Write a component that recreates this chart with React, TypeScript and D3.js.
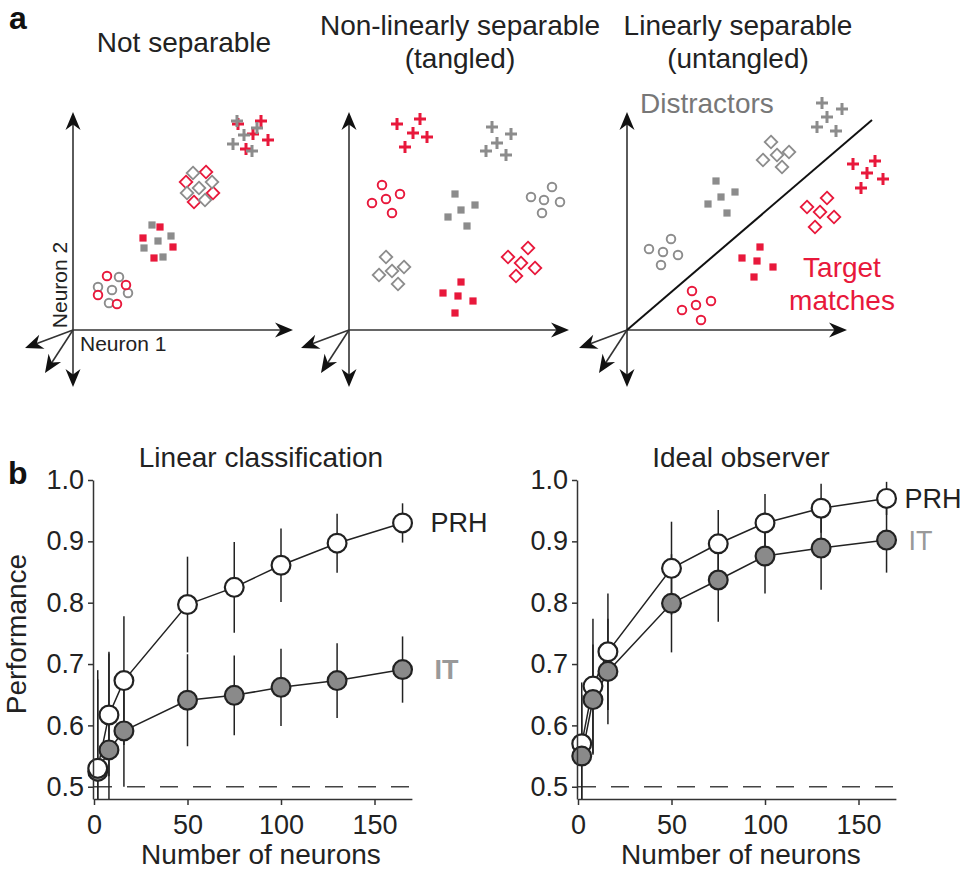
import React from 'react';
import * as d3 from 'd3';

const FONT = '"Liberation Sans", Arial, Helvetica, sans-serif';
const RED = '#e8183b';
const GRAY = '#8c8c8c';
const INK = '#222';

type Pt = [number, number];
type Shape = 'circle' | 'square' | 'diamond' | 'plus';
type Cluster = { shape: Shape; group: 'target' | 'distractor'; pts: Pt[] };

// ---- panel a : points in (neuron 1, neuron 2) units, origin at 0,0 ----
const notSepCircleT: Pt[] = [[34, 54], [53, 45], [25, 35], [44, 26]];
const notSepCircleD: Pt[] = [[46, 53], [25, 43], [39, 40], [55, 37], [36, 27]];
const notSepSquareT: Pt[] = [[87, 103], [70, 92], [100, 83], [81, 72]];
const notSepSquareD: Pt[] = [[79, 105], [98, 94], [85, 89], [71, 82], [90, 73]];
const notSepDiamondD: Pt[] = [[120, 157], [139, 148], [126, 142], [114, 137], [132, 130]];
const notSepDiamondT: Pt[] = [[133, 158], [113, 148], [140, 137], [121, 128]];
const notSepPlusT: Pt[] = [[165, 206], [188, 209], [180, 196], [195, 190], [173, 181]];
const notSepPlusD: Pt[] = [[164, 209], [184, 202], [171, 195], [160, 186], [179, 179]];

const tangPlusT: Pt[] = [[48, 206], [71, 211], [64, 197], [78, 193], [56, 183]];
const tangPlusD: Pt[] = [[143, 203], [162, 196], [148, 187], [137, 179], [157, 175]];
const tangCircleT: Pt[] = [[33, 145], [51, 136], [37, 131], [23, 127], [43, 117]];
const tangSquareD: Pt[] = [[106, 136], [126, 125], [112, 120], [99, 113], [118, 104]];
const tangCircleD: Pt[] = [[203, 143], [182, 133], [195, 130], [211, 128], [193, 117]];
const tangDiamondD: Pt[] = [[37, 73], [55, 63], [43, 59], [30, 55], [49, 46]];
const tangDiamondT: Pt[] = [[179, 82], [159, 73], [172, 67], [186, 62], [167, 54]];
const tangSquareT: Pt[] = [[112, 48], [94, 37], [109, 34], [124, 29], [106, 17]];

const untPlusD: Pt[] = [[195, 227], [215, 221], [200, 213], [190, 203], [209, 199]];
const untDiamondD: Pt[] = [[144, 188], [162, 178], [150, 175], [136, 170], [155, 163]];
const untSquareD: Pt[] = [[89, 149], [108, 138], [94, 133], [81, 126], [100, 117]];
const untCircleD: Pt[] = [[44, 91], [22, 81], [36, 78], [51, 75], [34, 65]];
const untPlusT: Pt[] = [[226, 166], [248, 169], [240, 157], [256, 151], [234, 142]];
const untDiamondT: Pt[] = [[200, 132], [180, 123], [193, 118], [207, 113], [188, 103]];
const untSquareT: Pt[] = [[133, 83], [115, 72], [130, 69], [146, 63], [127, 53]];
const untCircleT: Pt[] = [[65, 39], [84, 29], [69, 25], [55, 20], [74, 10]];
const untBoundary: Pt[] = [[0, 0], [245, 210]];

const notSeparable: Cluster[] = [
  { shape: 'circle', group: 'distractor', pts: notSepCircleD },
  { shape: 'circle', group: 'target', pts: notSepCircleT },
  { shape: 'square', group: 'distractor', pts: notSepSquareD },
  { shape: 'square', group: 'target', pts: notSepSquareT },
  { shape: 'diamond', group: 'target', pts: notSepDiamondT },
  { shape: 'diamond', group: 'distractor', pts: notSepDiamondD },
  { shape: 'plus', group: 'target', pts: notSepPlusT },
  { shape: 'plus', group: 'distractor', pts: notSepPlusD },
];
const tangled: Cluster[] = [
  { shape: 'plus', group: 'target', pts: tangPlusT },
  { shape: 'plus', group: 'distractor', pts: tangPlusD },
  { shape: 'circle', group: 'target', pts: tangCircleT },
  { shape: 'square', group: 'distractor', pts: tangSquareD },
  { shape: 'circle', group: 'distractor', pts: tangCircleD },
  { shape: 'diamond', group: 'distractor', pts: tangDiamondD },
  { shape: 'diamond', group: 'target', pts: tangDiamondT },
  { shape: 'square', group: 'target', pts: tangSquareT },
];
const untangled: Cluster[] = [
  { shape: 'plus', group: 'distractor', pts: untPlusD },
  { shape: 'diamond', group: 'distractor', pts: untDiamondD },
  { shape: 'square', group: 'distractor', pts: untSquareD },
  { shape: 'circle', group: 'distractor', pts: untCircleD },
  { shape: 'plus', group: 'target', pts: untPlusT },
  { shape: 'diamond', group: 'target', pts: untDiamondT },
  { shape: 'square', group: 'target', pts: untSquareT },
  { shape: 'circle', group: 'target', pts: untCircleT },
];

// ---- panel b ----
const neuronCounts = [2, 8, 16, 50, 75, 100, 130, 165];
const linPRH = [0.530, 0.617, 0.673, 0.797, 0.825, 0.861, 0.897, 0.930];
const linPRHErr = [0.16, 0.10, 0.105, 0.078, 0.074, 0.06, 0.048, 0.032];
const linIT = [0.525, 0.560, 0.591, 0.641, 0.649, 0.662, 0.673, 0.691];
const linITErr = [0.15, 0.16, 0.091, 0.075, 0.065, 0.063, 0.061, 0.054];
const idPRH = [0.570, 0.664, 0.720, 0.856, 0.896, 0.930, 0.954, 0.970];
const idPRHErr = [0.10, 0.11, 0.095, 0.076, 0.055, 0.047, 0.04, 0.027];
const idIT = [0.550, 0.642, 0.688, 0.799, 0.837, 0.876, 0.889, 0.902];
const idITErr = [0.10, 0.09, 0.086, 0.08, 0.068, 0.061, 0.068, 0.053];
const yTicks = [0.5, 0.6, 0.7, 0.8, 0.9, 1.0];
const xTicks = [0, 50, 100, 150];
const chance = 0.5;

// arrow tips of the schematic neuron axes, in the same units as the points
const axisTips: Pt[] = [[0, 218], [220, 0], [0, -57], [-48, -18], [-28, -43]];

function Arrow({ x1, y1, x2, y2 }: { x1: number; y1: number; x2: number; y2: number }) {
  const ang = Math.atan2(y2 - y1, x2 - x1);
  const len = Math.hypot(x2 - x1, y2 - y1);
  const ex = x1 + Math.cos(ang) * (len - 12);
  const ey = y1 + Math.sin(ang) * (len - 12);
  return (
    <g>
      <line x1={x1} y1={y1} x2={ex} y2={ey} stroke="#333" strokeWidth={1.6} />
      <path d="M0,0L-18,-7.5L-12.5,0L-18,7.5Z" fill="#111"
        transform={`translate(${x2},${y2}) rotate(${(ang * 180) / Math.PI})`} />
    </g>
  );
}

function Marker({ shape, color, x, y }: { shape: Shape; color: string; x: number; y: number }) {
  if (shape === 'circle') return <circle cx={x} cy={y} r={4.3} fill="white" stroke={color} strokeWidth={1.9} />;
  if (shape === 'square') return <rect x={x - 3.6} y={y - 3.6} width={7.2} height={7.2} fill={color} />;
  if (shape === 'diamond')
    return <path d={`M${x},${y - 6.3}L${x + 6.3},${y}L${x},${y + 6.3}L${x - 6.3},${y}Z`} fill="white" stroke={color} strokeWidth={1.8} />;
  return <path d={`M${x - 6},${y}H${x + 6}M${x},${y - 6}V${y + 6}`} stroke={color} strokeWidth={3} />;
}

function ScatterPanel({ ox, titles, clusters, boundary, children }:
  { ox: number; titles: { text: string; y: number }[]; clusters: Cluster[]; boundary?: Pt[]; children?: React.ReactNode }) {
  const oy = 330;
  const x = d3.scaleLinear().domain([0, 220]).range([ox, ox + 220]);
  const y = d3.scaleLinear().domain([0, 218]).range([oy, oy - 218]);
  const tx = ox + 111;
  return (
    <g>
      {titles.map(t => (
        <text key={t.text} x={tx} y={t.y} textAnchor="middle" fontSize={28} fill={INK}>{t.text}</text>
      ))}
      {axisTips.map((p, i) => <Arrow key={i} x1={x(0)} y1={y(0)} x2={x(p[0])} y2={y(p[1])} />)}
      {boundary && (
        <path d={d3.line<Pt>().x(d => x(d[0])).y(d => y(d[1]))(boundary) || ''} stroke="#111" strokeWidth={2} fill="none" />
      )}
      {clusters.map((c, ci) => c.pts.map((p, i) => (
        <Marker key={`${ci}-${i}`} shape={c.shape} color={c.group === 'target' ? RED : GRAY} x={x(p[0])} y={y(p[1])} />
      )))}
      {children}
    </g>
  );
}

function PerfPanel({ x0, title, prh, prhErr, it, itErr, itOnTop, prhDx, itBold, textDx }:
  { x0: number; title: string; prh: number[]; prhErr: number[]; it: number[]; itErr: number[]; itOnTop: boolean; prhDx: number; itBold: boolean; textDx: number }) {
  const pxPerUnit = 1.87;
  const x = d3.scaleLinear().domain([0, 170]).range([x0, x0 + 170 * pxPerUnit]);
  const y = d3.scaleLinear().domain([0.48, 1.0]).range([799, 480]);
  const yMin = 0.48;
  const line = d3.line<number>().x((_, i) => x(neuronCounts[i])).y(d => y(d));
  const yAxisRef = (el: SVGGElement | null) => {
    if (!el) return;
    d3.select(el).call(d3.axisLeft(y).tickValues(yTicks).tickFormat(d3.format('.1f')).tickSize(5).tickSizeOuter(0).tickPadding(4))
      .call(g => g.selectAll('text').attr('font-size', 27).attr('font-family', FONT).attr('fill', INK))
      .call(g => g.selectAll('line,path').attr('stroke', '#333').attr('stroke-width', 1.5));
  };
  const xAxisRef = (el: SVGGElement | null) => {
    if (!el) return;
    d3.select(el).call(d3.axisBottom(x).tickValues(xTicks).tickFormat(d3.format('d')).tickSize(6).tickSizeOuter(0).tickPadding(10))
      .call(g => g.selectAll('text').attr('font-size', 27).attr('font-family', FONT).attr('fill', INK))
      .call(g => g.selectAll('line,path').attr('stroke', '#333').attr('stroke-width', 1.5));
  };
  const errBars = (vals: number[], errs: number[], key: string) => vals.map((v, i) => (
    <line key={key + i} x1={x(neuronCounts[i])} x2={x(neuronCounts[i])}
      y1={y(Math.min(1.0, v + errs[i]))} y2={y(Math.max(yMin, v - errs[i]))} stroke={INK} strokeWidth={1.5} />
  ));
  const dots = (vals: number[], fill: string, key: string) => vals.map((v, i) => (
    <circle key={key + i} cx={x(neuronCounts[i])} cy={y(v)} r={9.4} fill={fill} stroke={INK} strokeWidth={2.2} />
  ));
  const prhDots = dots(prh, 'white', 'p');
  const itDots = dots(it, '#8a8a8a', 'i');
  const last = neuronCounts.length - 1;
  return (
    <g>
      <text x={x(85) + textDx} y={467} textAnchor="middle" fontSize={28} fill={INK}>{title}</text>
      <line x1={x(0)} x2={x(170)} y1={y(chance)} y2={y(chance)} stroke="#444" strokeWidth={1.5} strokeDasharray="18 15" />
      {errBars(it, itErr, 'ie')}
      {errBars(prh, prhErr, 'pe')}
      <path d={line(it) || ''} fill="none" stroke={INK} strokeWidth={1.5} />
      <path d={line(prh) || ''} fill="none" stroke={INK} strokeWidth={1.5} />
      {itOnTop ? <>{prhDots}{itDots}</> : <>{itDots}{prhDots}</>}
      <g ref={yAxisRef} transform={`translate(${x(0) - 1},0)`} />
      <g ref={xAxisRef} transform="translate(0,799)" />
      <text x={x(neuronCounts[last]) + prhDx} y={y(prh[last])} dy="0.35em" fontSize={27} fill={INK}>PRH</text>
      <text x={x(neuronCounts[last]) + prhDx + 4} y={y(it[last])} dy="0.35em" fontSize={27}
        fontWeight={itBold ? 'bold' : 'normal'} fill="#999">IT</text>
      <text x={x(85) + textDx} y={864} textAnchor="middle" fontSize={28} fill={INK}>Number of neurons</text>
    </g>
  );
}

export default function App() {
  return (
    <svg width={969} height={874} style={{ position: 'absolute', left: 0, top: 0, background: 'white' }} fontFamily={FONT}>
      <text x={9} y={29} fontSize={32} fontWeight="bold" fill="#111">a</text>
      <ScatterPanel ox={73} titles={[{ text: 'Not separable', y: 52 }]} clusters={notSeparable}>
        <text transform="translate(67,285) rotate(-90)" textAnchor="middle" fontSize={21} fill={INK}>Neuron 2</text>
        <text x={80} y={351} fontSize={21} fill={INK}>Neuron 1</text>
      </ScatterPanel>
      <ScatterPanel ox={349} titles={[{ text: 'Non-linearly separable', y: 35 }, { text: '(tangled)', y: 68 }]} clusters={tangled} />
      <ScatterPanel ox={627} titles={[{ text: 'Linearly separable', y: 35 }, { text: '(untangled)', y: 68 }]} clusters={untangled} boundary={untBoundary}>
        <text x={640} y={113} fontSize={28} fill="#777">Distractors</text>
        <text x={842} y={277} textAnchor="middle" fontSize={28} fill={RED}>Target</text>
        <text x={842} y={310} textAnchor="middle" fontSize={28} fill={RED}>matches</text>
      </ScatterPanel>

      <text x={8} y={484} fontSize={32} fontWeight="bold" fill="#111">b</text>
      <text transform="translate(26,634) rotate(-90)" textAnchor="middle" fontSize={28} fill={INK}>Performance</text>
      <PerfPanel x0={94} title="Linear classification" prh={linPRH} prhErr={linPRHErr} it={linIT} itErr={linITErr}
        itOnTop={false} prhDx={28} itBold={true} textDx={8} />
      <PerfPanel x0={578} title="Ideal observer" prh={idPRH} prhErr={idPRHErr} it={idIT} itErr={idITErr}
        itOnTop={true} prhDx={18} itBold={false} textDx={4} />
    </svg>
  );
}
